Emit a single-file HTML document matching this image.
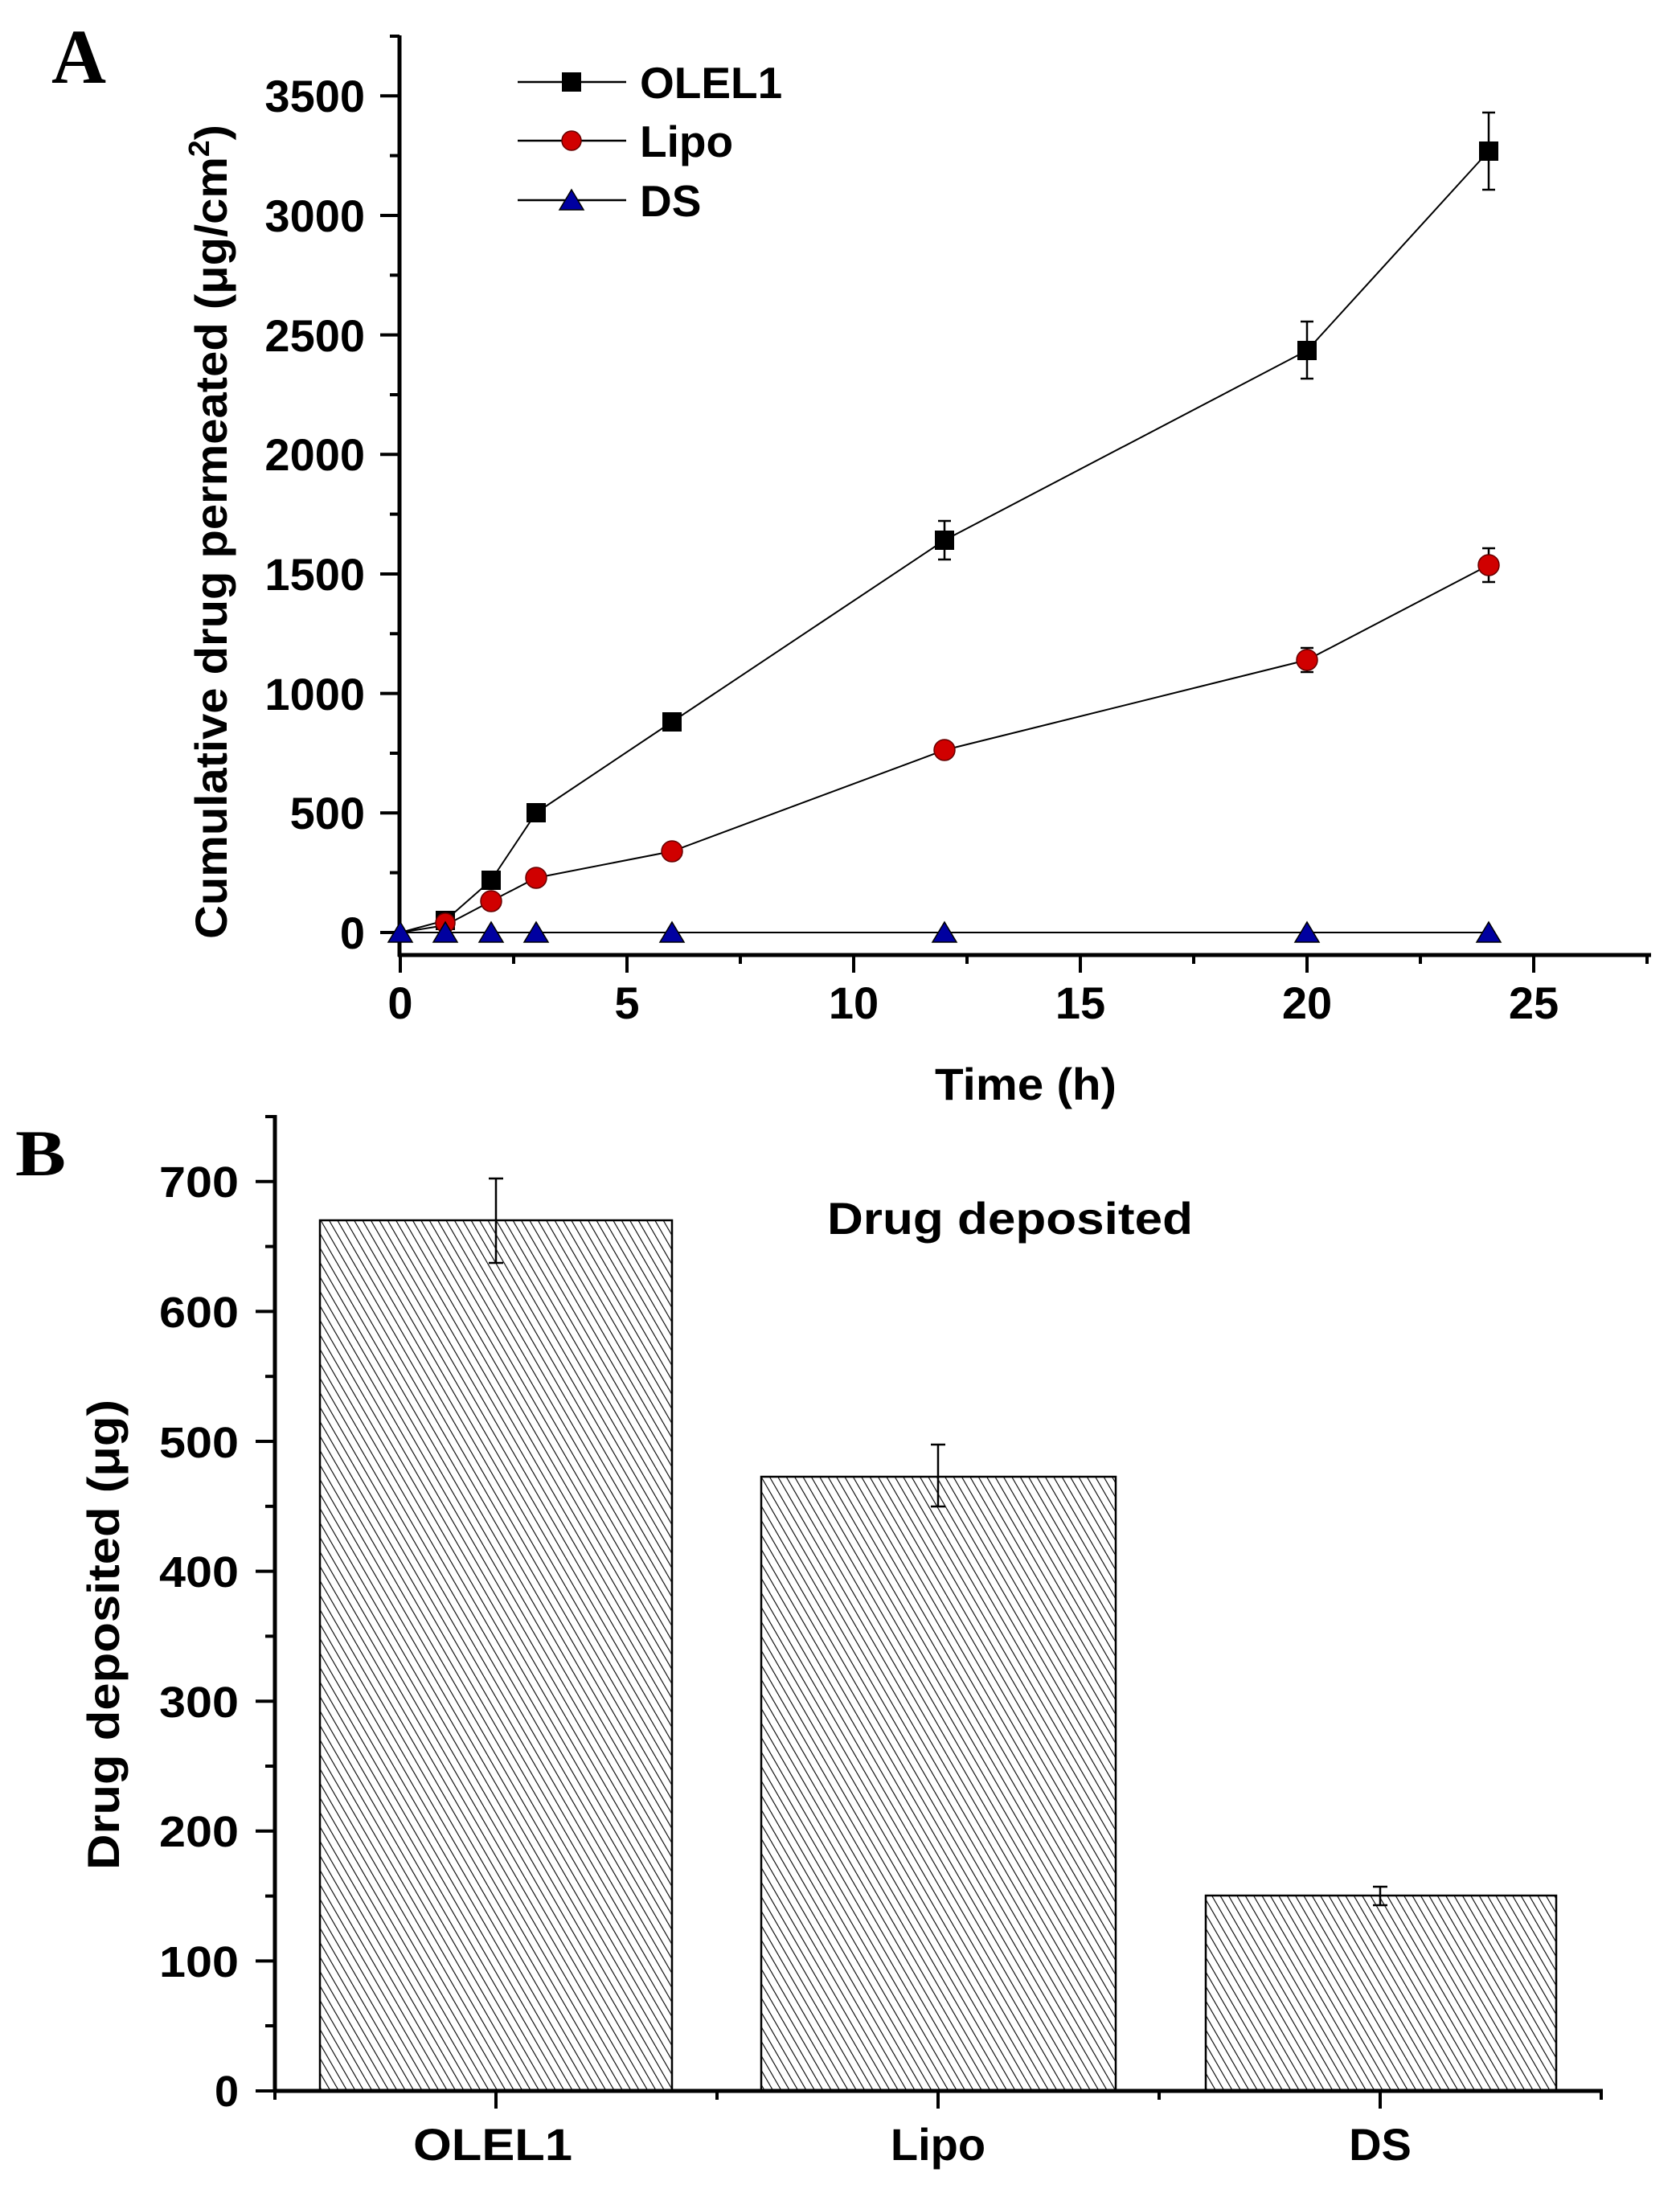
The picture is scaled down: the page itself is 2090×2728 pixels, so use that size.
<!DOCTYPE html>
<html><head><meta charset="utf-8"><style>html,body{margin:0;padding:0;background:#fff}svg{display:block}</style></head>
<body>
<svg width="2090" height="2728" viewBox="0 0 2090 2728" xmlns="http://www.w3.org/2000/svg" font-family="Liberation Sans, Arial, sans-serif" font-weight="bold">
<defs>
<pattern id="h" patternUnits="userSpaceOnUse" width="9" height="9" patternTransform="rotate(-30)">
<line x1="0" y1="0" x2="0" y2="9" stroke="#000" stroke-width="2.2"/>
</pattern>
</defs>
<rect width="2090" height="2728" fill="#fff"/>
<!-- Panel A -->
<text x="64" y="103" font-family="Liberation Serif, serif" font-size="96" textLength="68" lengthAdjust="spacingAndGlyphs">A</text>
<g stroke="#000" stroke-width="5" fill="none">
<line x1="497" y1="44" x2="497" y2="1190"/>
<line x1="495" y1="1188" x2="2054" y2="1188"/>
</g>
<g stroke="#000" stroke-width="4">
<line x1="473" y1="1160" x2="497" y2="1160"/><line x1="485" y1="1085.6" x2="497" y2="1085.6"/>
<line x1="473" y1="1011.3" x2="497" y2="1011.3"/><line x1="485" y1="937" x2="497" y2="937"/>
<line x1="473" y1="862.6" x2="497" y2="862.6"/><line x1="485" y1="788.3" x2="497" y2="788.3"/>
<line x1="473" y1="714" x2="497" y2="714"/><line x1="485" y1="639.6" x2="497" y2="639.6"/>
<line x1="473" y1="565.3" x2="497" y2="565.3"/><line x1="485" y1="491" x2="497" y2="491"/>
<line x1="473" y1="416.6" x2="497" y2="416.6"/><line x1="485" y1="342.3" x2="497" y2="342.3"/>
<line x1="473" y1="268" x2="497" y2="268"/><line x1="485" y1="193.6" x2="497" y2="193.6"/>
<line x1="473" y1="119.3" x2="497" y2="119.3"/><line x1="485" y1="45" x2="497" y2="45"/>
<line x1="498" y1="1188" x2="498" y2="1210"/><line x1="639" y1="1188" x2="639" y2="1199"/>
<line x1="780" y1="1188" x2="780" y2="1210"/><line x1="921" y1="1188" x2="921" y2="1199"/>
<line x1="1062" y1="1188" x2="1062" y2="1210"/><line x1="1203" y1="1188" x2="1203" y2="1199"/>
<line x1="1344" y1="1188" x2="1344" y2="1210"/><line x1="1485" y1="1188" x2="1485" y2="1199"/>
<line x1="1626" y1="1188" x2="1626" y2="1210"/><line x1="1767" y1="1188" x2="1767" y2="1199"/>
<line x1="1908" y1="1188" x2="1908" y2="1210"/><line x1="2049" y1="1188" x2="2049" y2="1199"/>
</g>
<g font-size="56" text-anchor="end">
<text x="454" y="1180">0</text><text x="454" y="1031">500</text><text x="454" y="883">1000</text>
<text x="454" y="734">1500</text><text x="454" y="585">2000</text><text x="454" y="437">2500</text>
<text x="454" y="288">3000</text><text x="454" y="139">3500</text>
</g>
<g font-size="56" text-anchor="middle">
<text x="498" y="1267">0</text><text x="780" y="1267">5</text><text x="1062" y="1267">10</text>
<text x="1344" y="1267">15</text><text x="1626" y="1267">20</text><text x="1908" y="1267">25</text>
</g>
<text x="1163" y="1368" font-size="56" textLength="226" lengthAdjust="spacingAndGlyphs">Time (h)</text>
<text transform="translate(282,1168) rotate(-90)" font-size="56" textLength="1013" lengthAdjust="spacingAndGlyphs">Cumulative drug permeated (μg/cm<tspan font-size="36" dy="-22">2</tspan><tspan dy="22">)</tspan></text>
<!-- legend -->
<g stroke="#000" stroke-width="2.5">
<line x1="644" y1="102" x2="779" y2="102"/><line x1="644" y1="175" x2="779" y2="175"/><line x1="644" y1="249" x2="779" y2="249"/>
</g>
<rect x="699" y="90" width="24" height="24" fill="#000"/>
<circle cx="711" cy="175" r="12" fill="#d00000" stroke="#600" stroke-width="1.5"/>
<polygon points="711,236 726,261 696,261" fill="#0000a0" stroke="#000" stroke-width="1.5"/>
<g font-size="55"><text x="796" y="122">OLEL1</text><text x="796" y="195">Lipo</text><text x="796" y="269">DS</text></g>
<!-- series -->
<g fill="none" stroke="#000" stroke-width="2">
<polyline points="498,1160 554,1145 611,1095 667,1011 836,898 1175,672 1626,436 1852,188"/>
<polyline points="498,1160 554,1151 611,1121 667,1092 836,1059 1175,933 1626,821 1852,703"/>
<line x1="498" y1="1160" x2="1852" y2="1160"/>
<g stroke-width="2.5">
<line x1="1175" y1="648" x2="1175" y2="696"/><line x1="1167" y1="648" x2="1183" y2="648"/><line x1="1167" y1="696" x2="1183" y2="696"/>
<line x1="1626" y1="400" x2="1626" y2="471"/><line x1="1618" y1="400" x2="1634" y2="400"/><line x1="1618" y1="471" x2="1634" y2="471"/>
<line x1="1852" y1="140" x2="1852" y2="236"/><line x1="1844" y1="140" x2="1860" y2="140"/><line x1="1844" y1="236" x2="1860" y2="236"/>
<line x1="1852" y1="682" x2="1852" y2="724"/><line x1="1844" y1="682" x2="1860" y2="682"/><line x1="1844" y1="724" x2="1860" y2="724"/>
<line x1="1626" y1="806" x2="1626" y2="836"/><line x1="1618" y1="806" x2="1634" y2="806"/><line x1="1618" y1="836" x2="1634" y2="836"/>
</g>
</g>
<g fill="#000">
<rect x="542" y="1133" width="24" height="24"/><rect x="599" y="1083" width="24" height="24"/>
<rect x="655" y="999" width="24" height="24"/><rect x="824" y="886" width="24" height="24"/>
<rect x="1163" y="660" width="24" height="24"/><rect x="1614" y="424" width="24" height="24"/>
<rect x="1840" y="176" width="24" height="24"/>
</g>
<g fill="#d00000" stroke="#600" stroke-width="1.5">
<circle cx="554" cy="1148" r="12"/><circle cx="611" cy="1121" r="13"/><circle cx="667" cy="1092" r="13"/>
<circle cx="836" cy="1059" r="13"/><circle cx="1175" cy="933" r="13"/><circle cx="1626" cy="821" r="13"/><circle cx="1852" cy="703" r="13"/>
</g>
<g fill="#0000a0" stroke="#000" stroke-width="1.5">
<polygon points="498,1147 513,1172 483,1172"/><polygon points="554,1147 569,1172 539,1172"/>
<polygon points="611,1147 626,1172 596,1172"/><polygon points="667,1147 682,1172 652,1172"/>
<polygon points="836,1147 851,1172 821,1172"/><polygon points="1175,1147 1190,1172 1160,1172"/>
<polygon points="1626,1147 1641,1172 1611,1172"/><polygon points="1852,1147 1867,1172 1837,1172"/>
</g>
<!-- Panel B -->
<text x="19" y="1462" font-family="Liberation Serif, serif" font-size="82" textLength="63" lengthAdjust="spacingAndGlyphs">B</text>
<rect x="398" y="1518" width="438" height="1083" fill="url(#h)" stroke="#000" stroke-width="2.5"/>
<rect x="947" y="1837" width="441" height="764" fill="url(#h)" stroke="#000" stroke-width="2.5"/>
<rect x="1500" y="2358" width="436" height="243" fill="url(#h)" stroke="#000" stroke-width="2.5"/>
<g stroke="#000" stroke-width="2.5">
<line x1="617" y1="1466" x2="617" y2="1571"/><line x1="608" y1="1466" x2="626" y2="1466"/><line x1="608" y1="1571" x2="626" y2="1571"/>
<line x1="1167" y1="1797" x2="1167" y2="1874"/><line x1="1158" y1="1797" x2="1176" y2="1797"/><line x1="1158" y1="1874" x2="1176" y2="1874"/>
<line x1="1717" y1="2347" x2="1717" y2="2370"/><line x1="1708" y1="2347" x2="1726" y2="2347"/><line x1="1708" y1="2370" x2="1726" y2="2370"/>
</g>
<g stroke="#000" stroke-width="5" fill="none">
<line x1="342" y1="1387" x2="342" y2="2603"/>
<line x1="340" y1="2601" x2="1994" y2="2601"/>
</g>
<g stroke="#000" stroke-width="4">
<line x1="318" y1="2601" x2="342" y2="2601"/><line x1="330" y1="2520" x2="342" y2="2520"/>
<line x1="318" y1="2439.4" x2="342" y2="2439.4"/><line x1="330" y1="2358.6" x2="342" y2="2358.6"/>
<line x1="318" y1="2277.8" x2="342" y2="2277.8"/><line x1="330" y1="2197" x2="342" y2="2197"/>
<line x1="318" y1="2116.2" x2="342" y2="2116.2"/><line x1="330" y1="2035.4" x2="342" y2="2035.4"/>
<line x1="318" y1="1954.6" x2="342" y2="1954.6"/><line x1="330" y1="1873.8" x2="342" y2="1873.8"/>
<line x1="318" y1="1793" x2="342" y2="1793"/><line x1="330" y1="1712.2" x2="342" y2="1712.2"/>
<line x1="318" y1="1631.4" x2="342" y2="1631.4"/><line x1="330" y1="1550.6" x2="342" y2="1550.6"/>
<line x1="318" y1="1469.8" x2="342" y2="1469.8"/><line x1="330" y1="1389" x2="342" y2="1389"/>
<line x1="617" y1="2601" x2="617" y2="2623"/><line x1="1167" y1="2601" x2="1167" y2="2623"/><line x1="1717" y1="2601" x2="1717" y2="2623"/>
<line x1="342" y1="2601" x2="342" y2="2612"/><line x1="892" y1="2601" x2="892" y2="2612"/><line x1="1442" y1="2601" x2="1442" y2="2612"/><line x1="1992" y1="2601" x2="1992" y2="2612"/>
</g>
<g font-size="54" text-anchor="end">
<text x="297" y="2620">0</text><text x="297" y="2459" textLength="99" lengthAdjust="spacingAndGlyphs">100</text>
<text x="297" y="2297" textLength="99" lengthAdjust="spacingAndGlyphs">200</text><text x="297" y="2136" textLength="99" lengthAdjust="spacingAndGlyphs">300</text>
<text x="297" y="1974" textLength="99" lengthAdjust="spacingAndGlyphs">400</text><text x="297" y="1813" textLength="99" lengthAdjust="spacingAndGlyphs">500</text>
<text x="297" y="1651" textLength="99" lengthAdjust="spacingAndGlyphs">600</text><text x="297" y="1489" textLength="99" lengthAdjust="spacingAndGlyphs">700</text>
</g>
<g font-size="56">
<text x="514" y="2687" textLength="198" lengthAdjust="spacingAndGlyphs">OLEL1</text>
<text x="1167" y="2687" text-anchor="middle">Lipo</text>
<text x="1717" y="2687" text-anchor="middle">DS</text>
</g>
<text x="1029" y="1535" font-size="56" textLength="455" lengthAdjust="spacingAndGlyphs">Drug deposited</text>
<text transform="translate(148,2326) rotate(-90)" font-size="56" textLength="585" lengthAdjust="spacingAndGlyphs">Drug deposited (μg)</text>
</svg>
</body></html>
